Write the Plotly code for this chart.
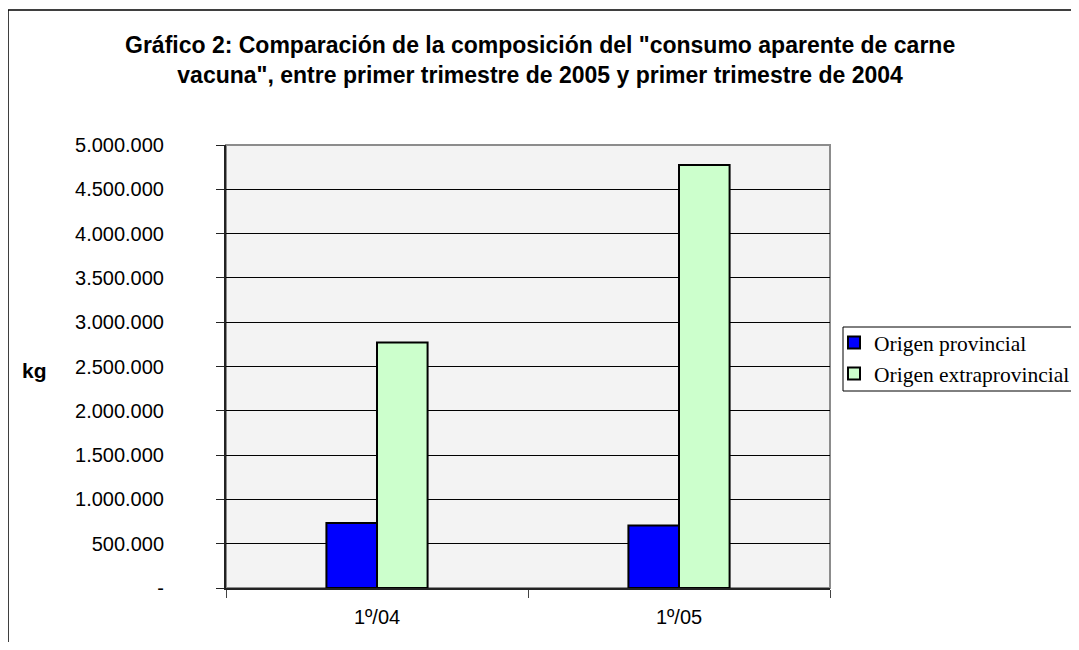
import plotly.graph_objects as go

categories = ["1º/04", "1º/05"]
provincial = [733000, 706000]
extraprovincial = [2770000, 4774000]
series_names = ["Origen provincial", "Origen extraprovincial"]
tick_values = [0, 500000, 1000000, 1500000, 2000000, 2500000, 3000000, 3500000, 4000000, 4500000, 5000000]
tick_labels = ["-", "500.000", "1.000.000", "1.500.000", "2.000.000", "2.500.000",
               "3.000.000", "3.500.000", "4.000.000", "4.500.000", "5.000.000"]

# page body has an 8px margin; figure sized to fit in the window
W, H = 1071, 634
PL, PR, PT, PB = 226, 830, 145, 588      # plot area in page pixels
L = PL - 8
T = PT - 8
pw, ph = PR - PL, PB - PT
R = W - L - pw
B = H - T - ph

def px(x):
    return (x - PL) / pw

def py(y):
    return (PB - y) / ph

fig = go.Figure()
fig.add_trace(go.Bar(x=categories, y=provincial, name=series_names[0], legendgroup="a",
                     marker=dict(color="#0000ff", line=dict(color="black", width=2))))
fig.add_trace(go.Bar(x=categories, y=extraprovincial, name=series_names[1], legendgroup="b",
                     marker=dict(color="#ccffcc", line=dict(color="black", width=2))))

fig.update_layout(
    width=W, height=H,
    margin=dict(l=L, r=R, t=T, b=B, autoexpand=False),
    paper_bgcolor="white",
    plot_bgcolor="#f3f3f3",
    barmode="group",
    bargap=0.665,
    bargroupgap=0,
    font=dict(family="Arial, Liberation Sans", size=20, color="black"),
    showlegend=True,
    legend=dict(x=px(834), y=py(322), xanchor="left", yanchor="top",
                bgcolor="rgba(0,0,0,0)", borderwidth=0,
                font=dict(family="Times New Roman, Liberation Serif", size=21.5, color="black"),
                tracegroupgap=5, itemwidth=30, traceorder="normal"),
    xaxis=dict(showline=True, linecolor="#222", linewidth=2, ticks="outside", ticklen=8,
               tickcolor="#444", tickwidth=1, tickson="boundaries", showgrid=False,
               tickfont=dict(size=20), ticklabelstandoff=10, fixedrange=True),
    yaxis=dict(range=[0, 5000000], tickvals=tick_values, ticktext=tick_labels,
               showline=True, linecolor="#222", linewidth=2, ticks="outside", ticklen=8,
               tickcolor="#222", showgrid=True, gridcolor="black", gridwidth=1,
               zeroline=False, tickfont=dict(size=20), ticklabelstandoff=48),
    shapes=[
        dict(type="rect", xref="paper", yref="paper", x0=0, x1=1, y0=0, y1=1,
             line=dict(color="#8c8c8c", width=2), layer="below"),
        dict(type="rect", xref="paper", yref="paper", x0=px(8), x1=px(1120), y0=py(10), y1=py(720),
             line=dict(color="black", width=1.5), layer="above"),
        dict(type="rect", xref="paper", yref="paper", x0=px(843), x1=px(1120), y0=py(327), y1=py(391),
             line=dict(color="black", width=1), fillcolor="white", layer="above"),
    ],
    annotations=[
        dict(text="<b>Gráfico 2: Comparación de la composición del \"consumo aparente de carne<br>"
                  "vacuna\", entre primer trimestre de 2005 y primer trimestre de 2004</b>",
             xref="paper", yref="paper", x=px(540), y=py(60),
             xanchor="center", yanchor="middle", showarrow=False,
             font=dict(family="Arial, Liberation Sans", size=23, color="black")),
        dict(text="<b>kg</b>", xref="paper", yref="paper", x=px(34), y=py(370),
             xanchor="center", yanchor="middle", showarrow=False,
             font=dict(family="Arial, Liberation Sans", size=21, color="black")),
    ],
)

fig.write_html("out.html")
